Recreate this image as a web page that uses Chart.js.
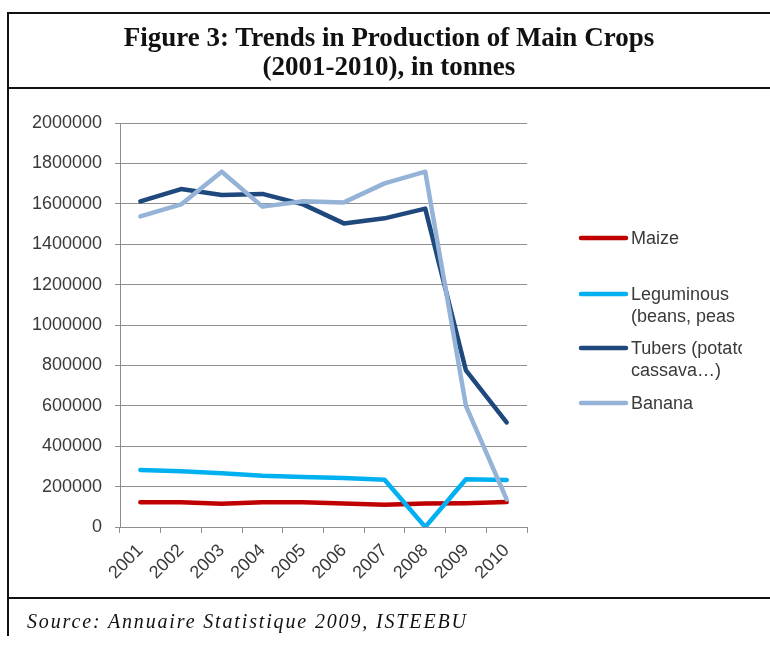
<!DOCTYPE html>
<html>
<head>
<meta charset="utf-8">
<script src="https://cdn.jsdelivr.net/npm/chart.js@4"></script>
<style>
  html, body { margin: 0; padding: 0; background: #fff; }
  body { width: 770px; height: 645px; position: relative; overflow: hidden; }
  #chart { position: absolute; left: 0; top: 0; }
  .rule { position: absolute; background: #111; }
  #title {
    position: absolute; left: 8px; top: 23px; width: 762px; text-align: center;
    font-family: "Liberation Serif", "DejaVu Serif", serif; font-weight: bold;
    font-size: 27px; line-height: 29px; color: #111;
  }
  #source {
    position: absolute; left: 27px; top: 610px;
    font-family: "Liberation Serif", "DejaVu Serif", serif; font-style: italic;
    font-size: 20px; letter-spacing: 1.85px; color: #111;
  }
</style>
</head>
<body>
<canvas id="chart" width="770" height="645"></canvas>
<div class="rule" style="left:7px;top:12px;width:763px;height:2px"></div>
<div class="rule" style="left:7px;top:87px;width:763px;height:2px"></div>
<div class="rule" style="left:7px;top:597px;width:763px;height:2px"></div>
<div class="rule" style="left:7px;top:12px;width:2px;height:624px"></div>
<div id="title">Figure 3: Trends in Production of Main Crops<br>(2001-2010), in tonnes</div>
<div id="source">Source: Annuaire Statistique 2009, ISTEEBU</div>
<script>
// Production of main crops, tonnes per year
const years = ['2001', '2002', '2003', '2004', '2005', '2006', '2007', '2008', '2009', '2010'];
const maize = [122000, 122000, 115000, 122000, 122000, 116000, 110000, 116000, 118000, 124000];
const leguminous = [282000, 276000, 266000, 254000, 248000, 243000, 234000, 0, 236000, 233000];
const tubers = [1612000, 1673000, 1644000, 1649000, 1597000, 1503000, 1528000, 1576000, 775000, 518000];
const banana = [1538000, 1597000, 1759000, 1586000, 1613000, 1607000, 1701000, 1759000, 600000, 137000];

const seriesLabels = [
  ['Maize'],
  ['Leguminous', '(beans, peas …)'],
  ['Tubers (potato,', 'cassava…)'],
  ['Banana']
];
const seriesColors = ['#C00000', '#00B0F0', '#1F497D', '#95B3D7'];
const yTicks = [0, 200000, 400000, 600000, 800000, 1000000, 1200000, 1400000, 1600000, 1800000, 2000000];

const textColor = '#3a3a3a';
const gridColor = '#8e8e8e';
const tickFont = { family: '"Liberation Sans", Arial, sans-serif', size: 18 };

// Legend drawn beside the plot, with wrapped labels clipped at the frame edge
const sideLegend = {
  id: 'sideLegend',
  afterDraw(chart) {
    const ctx = chart.ctx;
    const rows = [238, 294, 348, 403];
    ctx.save();
    ctx.beginPath();
    ctx.rect(560, 200, 182, 240);
    ctx.clip();
    chart.data.datasets.forEach((ds, i) => {
      const y = rows[i];
      ctx.strokeStyle = ds.borderColor;
      ctx.lineWidth = 4.5;
      ctx.lineCap = 'round';
      ctx.beginPath();
      ctx.moveTo(581, y);
      ctx.lineTo(626, y);
      ctx.stroke();
      ctx.fillStyle = textColor;
      ctx.font = '18px "Liberation Sans", Arial, sans-serif';
      ctx.textBaseline = 'middle';
      ctx.textAlign = 'left';
      seriesLabels[i].forEach((line, j) => ctx.fillText(line, 631, y + 1 + j * 22));
    });
    ctx.restore();
  }
};

const seriesData = [maize, leguminous, tubers, banana];

new Chart(document.getElementById('chart'), {
  type: 'line',
  data: {
    labels: years,
    datasets: seriesData.map((values, i) => ({
      label: seriesLabels[i].join(' '),
      data: values,
      borderColor: seriesColors[i],
      backgroundColor: seriesColors[i],
      borderWidth: 4.5,
      pointRadius: 0,
      tension: 0,
      borderJoinStyle: 'round',
      borderCapStyle: 'round',
      order: seriesData.length - i
    }))
  },
  options: {
    responsive: false,
    animation: false,
    layout: { padding: { left: 20, top: 123, right: 243, bottom: 58 } },
    plugins: { legend: { display: false }, tooltip: { enabled: false } },
    scales: {
      x: {
        offset: true,
        grid: { offset: true, drawOnChartArea: false, drawTicks: true, tickLength: 6, color: gridColor },
        border: { color: gridColor, width: 1 },
        ticks: { color: textColor, font: tickFont, minRotation: 45, maxRotation: 45, padding: 7, autoSkip: false },
        afterFit(scale) { scale.height = 60; }
      },
      y: {
        min: 0,
        max: 2000000,
        afterBuildTicks(scale) { scale.ticks = yTicks.map(v => ({ value: v })); },
        grid: { color: gridColor, lineWidth: 1, drawTicks: true, tickLength: 5 },
        border: { color: gridColor, width: 1 },
        ticks: { color: textColor, font: tickFont, padding: 13, callback: v => String(v) },
        afterFit(scale) { scale.width = 100; }
      }
    }
  },
  plugins: [sideLegend]
});
</script>
</body>
</html>
